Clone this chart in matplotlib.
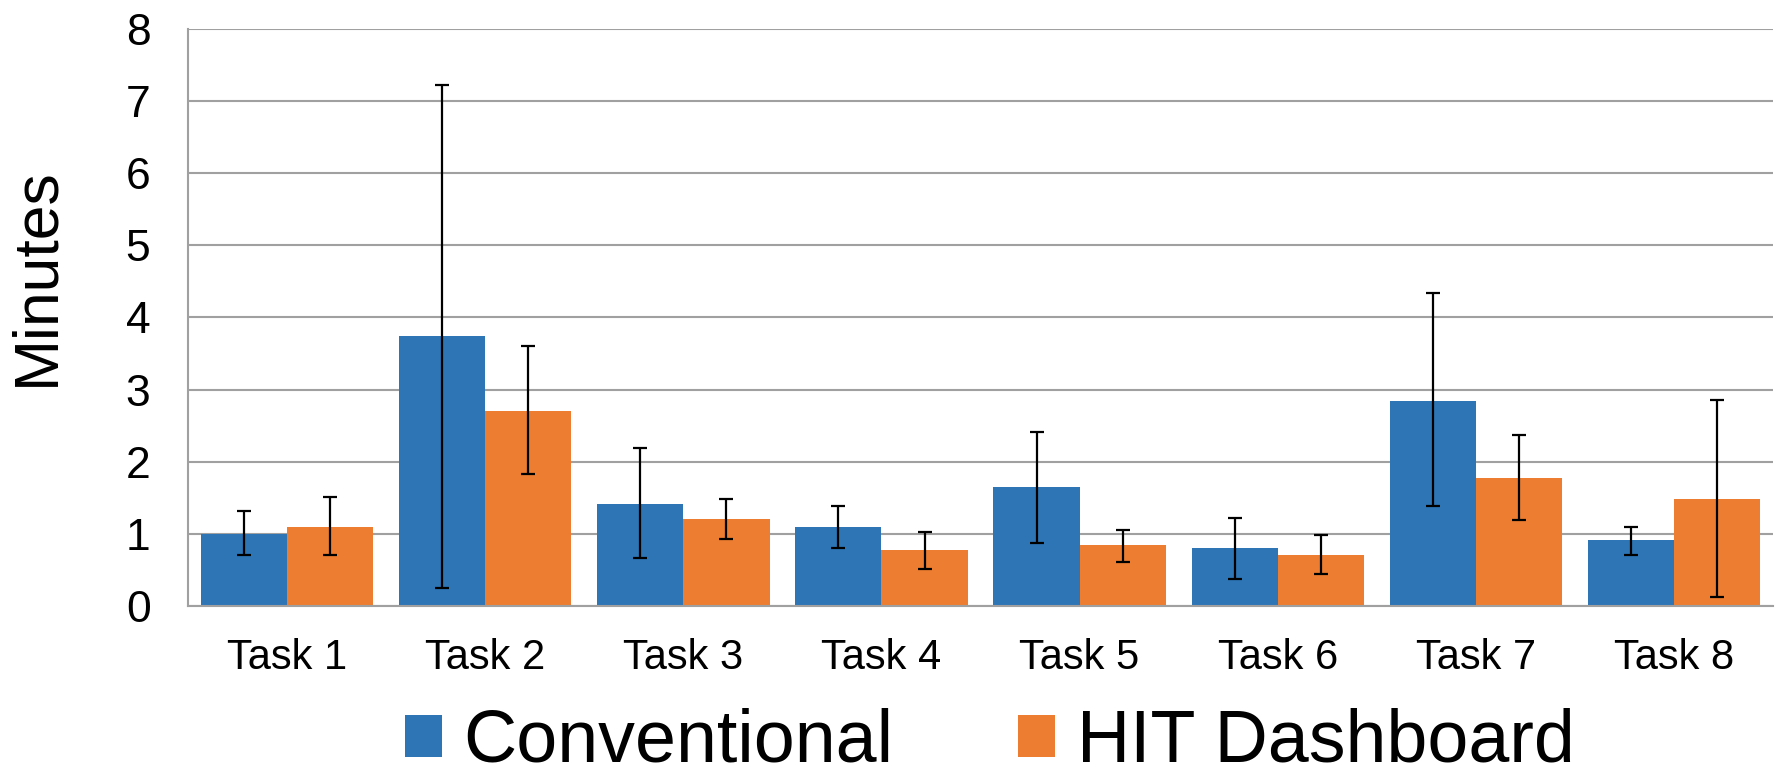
import numpy as np
import matplotlib
matplotlib.use('Agg')
import matplotlib.pyplot as plt

# ---- data ----
tasks = ['Task 1', 'Task 2', 'Task 3', 'Task 4', 'Task 5', 'Task 6', 'Task 7', 'Task 8']
conv_mean = [1.00, 3.75, 1.42, 1.10, 1.65, 0.81, 2.84, 0.91]
conv_hi   = [1.32, 7.23, 2.19, 1.38, 2.41, 1.22, 4.34, 1.09]
conv_lo   = [0.70, 0.25, 0.67, 0.80, 0.87, 0.38, 1.38, 0.70]
hit_mean  = [1.10, 2.71, 1.20, 0.78, 0.84, 0.71, 1.78, 1.49]
hit_hi    = [1.51, 3.60, 1.48, 1.03, 1.06, 0.99, 2.37, 2.86]
hit_lo    = [0.70, 1.83, 0.93, 0.51, 0.61, 0.44, 1.19, 0.13]
y_ticks = [0, 1, 2, 3, 4, 5, 6, 7, 8]

plt.rcParams['font.family'] = ['Liberation Sans', 'DejaVu Sans']

blue = '#2E75B6'
orange = '#ED7D31'
grid_col = '#a0a0a0'

fig = plt.figure(figsize=(17.77, 7.79), dpi=100)
ax = fig.add_axes([0.1058, 0.2221, 0.892, 0.7407])

x = np.arange(len(tasks))
w = 0.435

# asymmetric error bars (lower, upper) from the read-off ends
conv_err = [np.array(conv_mean) - np.array(conv_lo), np.array(conv_hi) - np.array(conv_mean)]
hit_err = [np.array(hit_mean) - np.array(hit_lo), np.array(hit_hi) - np.array(hit_mean)]
ekw = dict(ecolor='black', elinewidth=1.6, capsize=4.7, capthick=1.6, zorder=3)

ax.bar(x - w/2, conv_mean, w, color=blue, label='Conventional', zorder=2, yerr=conv_err, error_kw=ekw)
ax.bar(x + w/2, hit_mean, w, color=orange, label='HIT Dashboard', zorder=2, yerr=hit_err, error_kw=ekw)

ax.set_xlim(-0.5, len(tasks) - 0.5)
ax.set_ylim(0, 8)
ax.set_yticks(y_ticks)
ax.set_xticks(x)
ax.set_xticklabels(tasks)
ax.tick_params(axis='both', length=0)
ax.tick_params(axis='y', pad=27, labelsize=32)
ax.tick_params(axis='x', pad=23, labelsize=30)
ax.yaxis.grid(True, color=grid_col, linewidth=1.5, zorder=0)
ax.set_axisbelow(True)

for s in ['top', 'right']:
    ax.spines[s].set_visible(False)
for s in ['left', 'bottom']:
    ax.spines[s].set_color(grid_col)
    ax.spines[s].set_linewidth(1.5)

ax.set_ylabel('Minutes', fontsize=45)
ax.yaxis.set_label_coords(-0.077, 0.57)

fig.legend(loc='center', bbox_to_anchor=(0.557, 0.047), ncol=2, frameon=False,
           fontsize=53, handlelength=0.5, handleheight=0.5,
           handletextpad=0.29, columnspacing=1.7)

plt.savefig('out.png', dpi=100)
